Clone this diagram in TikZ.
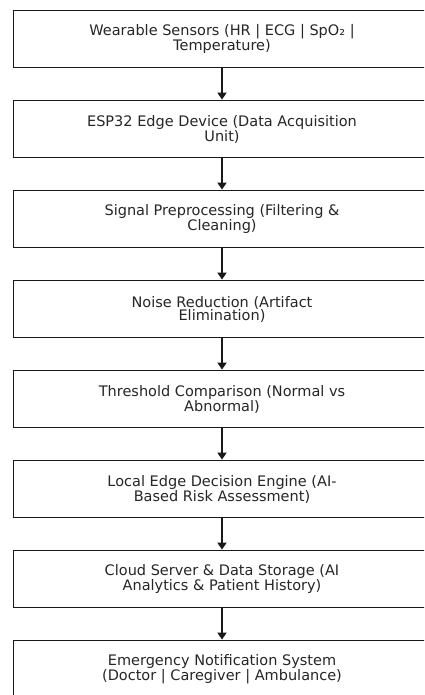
\documentclass[tikz,border=0pt]{standalone}
\usepackage{fontspec}
\setmainfont{DejaVu Sans}
\usetikzlibrary{arrows.meta}
\begin{document}
\begin{tikzpicture}[x=1pt,y=-1pt,
  stagebox/.style={draw=black!90, line width=1.8pt, fill=white, minimum width=417pt, minimum height=57pt,
    inner sep=0pt, align=center, font=\fontsize{14.5}{13}\selectfont, text=black!85},
  flowarrow/.style={draw=black!90, line width=1.8pt, -{Triangle[length=7pt,width=9pt]}}]
\useasboundingbox (0,0) rectangle (424,695);
\clip (0,0) rectangle (424,695);
\node[stagebox] (b1) at (222,39) {Wearable Sensors (HR | ECG | SpO₂ |\\Temperature)};
\node[stagebox] (b2) at (222,129) {ESP32 Edge Device (Data Acquisition\\Unit)};
\node[stagebox] (b3) at (222,219) {Signal Preprocessing (Filtering \&\\Cleaning)};
\node[stagebox] (b4) at (222,309) {Noise Reduction (Artifact\\Elimination)};
\node[stagebox] (b5) at (222,399) {Threshold Comparison (Normal vs\\Abnormal)};
\node[stagebox] (b6) at (222,489) {Local Edge Decision Engine (AI-\\Based Risk Assessment)};
\node[stagebox] (b7) at (222,579) {Cloud Server \& Data Storage (AI\\Analytics \& Patient History)};
\node[stagebox] (b8) at (222,669) {Emergency Notification System\\(Doctor | Caregiver | Ambulance)};
\foreach \a/\b in {b1/b2,b2/b3,b3/b4,b4/b5,b5/b6,b6/b7,b7/b8}
  \draw[flowarrow] (\a.south) -- (\b.north);
\end{tikzpicture}
\end{document}
